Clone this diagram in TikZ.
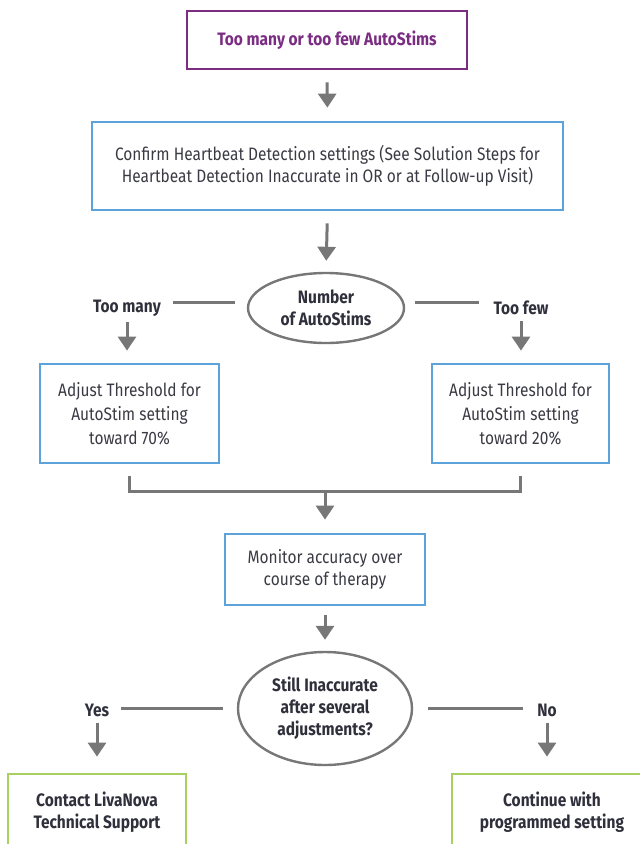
\documentclass[tikz,border=0pt]{standalone}
\usepackage{fontspec}
\setmainfont{Fira Sans}[FakeStretch=0.86]
\usetikzlibrary{arrows.meta,shapes.geometric,calc}
\definecolor{purp}{HTML}{7B2C83}
\definecolor{blu}{HTML}{5BA3DA}
\definecolor{grn}{HTML}{A8D060}
\definecolor{gry}{HTML}{777777}
\definecolor{txt}{HTML}{3A3A44}
\definecolor{txtb}{HTML}{30303C}
\tikzset{
  bluebox/.style={draw=blu,line width=2.8pt,rectangle,inner sep=0pt,align=center,text=txt,font=\fontsize{18}{22}\selectfont},
  purpbox/.style={draw=purp,line width=2.8pt,rectangle,inner sep=0pt,align=center,text=purp,font=\fontsize{18}{22}\selectfont\bfseries},
  greenbox/.style={draw=grn,line width=2.8pt,rectangle,inner sep=0pt,align=center,text=txtb,font=\fontsize{18}{22}\selectfont\bfseries},
  decis/.style={draw=gry,line width=2.4pt,ellipse,inner sep=0pt,align=center,text=txtb,font=\fontsize{18}{22}\selectfont\bfseries},
  lbl/.style={text=txtb,font=\fontsize{18}{22}\selectfont\bfseries,inner sep=0pt},
  conn/.style={draw=gry,line width=3pt},
  arr/.style={draw=gry,line width=3pt,-{Triangle[width=18pt,length=14pt]}},
}
\begin{document}
\begin{tikzpicture}[x=1pt,y=-1pt]
\useasboundingbox (0,0) rectangle (640,844);
\node[purpbox,minimum width=280,minimum height=58] (top) at (327,40) {Too many or too few AutoStims};
\node[bluebox,minimum width=471,minimum height=88] (conf) at (327.5,166) {Confirm Heartbeat Detection settings (See Solution Steps for\\Heartbeat Detection Inaccurate in OR or at Follow-up Visit)};
\node[decis,minimum width=156,minimum height=70] (e1) at (326,308) {Number\\of AutoStims};
\node[lbl] (tm) at (127,308) {Too many};
\node[lbl] (tf) at (521,308) {Too few};
\node[bluebox,minimum width=179,minimum height=99,font=\fontsize{18}{24}\selectfont] (lb) at (129.5,413.5) {Adjust Threshold for\\AutoStim setting\\toward 70\%};
\node[bluebox,minimum width=177,minimum height=99,font=\fontsize{18}{24}\selectfont] (rb) at (520.5,413.5) {Adjust Threshold for\\AutoStim setting\\toward 20\%};
\coordinate (jn) at (325,491);
\node[bluebox,minimum width=200,minimum height=71] (mon) at (325,569.5) {Monitor accuracy over\\course of therapy};
\node[decis,minimum width=174,minimum height=113] (e2) at (325,708.5) {Still Inaccurate\\after several\\adjustments?};
\node[lbl] (yes) at (97,710) {Yes};
\node[lbl] (no) at (547,710) {No};
\node[greenbox,minimum width=178,minimum height=76] (gl) at (97,812) {Contact LivaNova\\Technical Support};
\node[greenbox,minimum width=200,minimum height=76] (gr) at (552,812) {Continue with\\programmed setting};
% connectors
\draw[arr,shorten <=12pt,shorten >=13pt] (top.south) -- (conf.north);
\draw[arr,shorten <=12pt,shorten >=11pt] (conf.south) -- (e1.north);
\draw[conn,shorten <=12pt,shorten >=12pt] (e1.west |- 0,302) -- (tm.east |- 0,302);
\draw[conn,shorten <=10pt,shorten >=14pt] (e1.east |- 0,302) -- (tf.west |- 0,302);
\draw[arr,shorten <=6pt,shorten >=12pt] (tm.south) -- (tm.south |- lb.north);
\draw[arr,shorten <=6pt,shorten >=12pt] (tf.south) -- (tf.south |- rb.north);
\draw[conn] ($(lb.south)+(0,12)$) -- (lb.south |- jn) -- (rb.south |- jn) -- ($(rb.south)+(0,12)$);
\draw[arr,shorten >=13pt] (jn) -- (mon.north);
\draw[arr,shorten <=9pt,shorten >=11pt] (mon.south) -- (e2.north);
\draw[conn,shorten <=14pt,shorten >=12pt] (e2.west |- 0,708) -- (yes.east |- 0,708);
\draw[conn,shorten <=15pt,shorten >=14pt] (e2.east |- 0,708) -- (no.west |- 0,708);
\draw[arr,shorten <=6pt,shorten >=16pt] (yes.south) -- (yes.south |- gl.north);
\draw[arr,shorten <=6pt,shorten >=16pt] (no.south) -- (no.south |- gr.north);
\end{tikzpicture}
\end{document}
